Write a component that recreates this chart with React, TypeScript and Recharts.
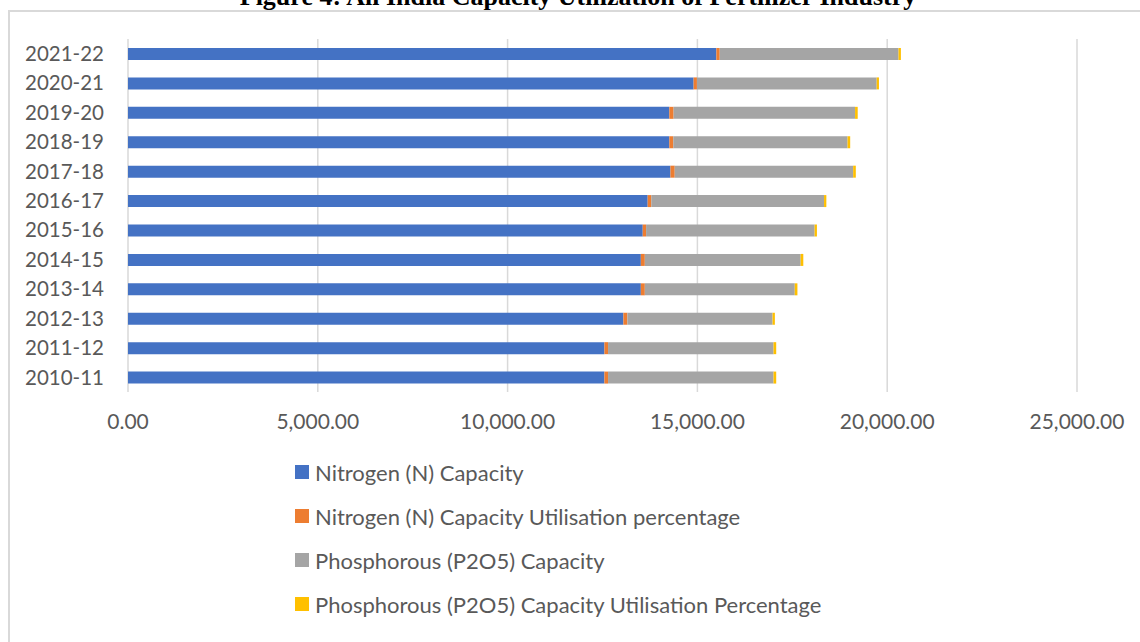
import React from "react";
import { BarChart, Bar, XAxis, YAxis, CartesianGrid, Legend } from "recharts";

const years = ["2010-11", "2011-12", "2012-13", "2013-14", "2014-15", "2015-16", "2016-17", "2017-18", "2018-19", "2019-20", "2020-21", "2021-22"];
const nCapacity = [12550, 12550, 13050, 13510, 13510, 13560, 13690, 14290, 14260, 14260, 14900, 15500];
const nUtil = [96, 96, 105, 105, 105, 88, 96, 113, 105, 113, 88, 88];
const pCapacity = [4360, 4360, 3825, 3950, 4105, 4440, 4550, 4700, 4590, 4780, 4735, 4710];
const pUtil = [70, 70, 61, 70, 70, 61, 61, 70, 70, 70, 60, 63];
const xTicks = [0, 5000, 10000, 15000, 20000, 25000];

const seriesNames = [
  "Nitrogen (N) Capacity",
  "Nitrogen (N) Capacity Utilisation percentage",
  "Phosphorous (P2O5) Capacity",
  "Phosphorous (P2O5) Capacity Utilisation Percentage",
];
const seriesKeys = ["nCap", "nUtil", "pCap", "pUtil"];
const seriesColors = ["#4472C4", "#ED7D31", "#A5A5A5", "#FFC000"];

const data = years.map((y, i) => ({
  year: y,
  nCap: nCapacity[i],
  nUtil: nUtil[i],
  pCap: pCapacity[i],
  pUtil: pUtil[i],
}));

const FONT = "Lato, 'Open Sans', sans-serif";
const TEXT = "#595959";

const fmt = (v: number) =>
  v.toLocaleString("en-US", { minimumFractionDigits: 2, maximumFractionDigits: 2 });

const LegendContent = () => (
  <div style={{ fontFamily: FONT, fontSize: 22, color: TEXT }}>
    {seriesNames.map((n, i) => (
      <div key={n} style={{ height: 44, display: "flex", alignItems: "center", whiteSpace: "nowrap" }}>
        <span style={{ display: "inline-block", width: 14, height: 14, background: seriesColors[i], marginRight: 6 }} />
        <span>{n}</span>
      </div>
    ))}
  </div>
);

export default function App() {
  return (
    <div style={{ position: "absolute", left: 0, top: 0, width: 1140, height: 642, overflow: "hidden", background: "#fff" }}>
      <div
        style={{
          position: "absolute",
          left: 8,
          top: 10,
          width: 1200,
          height: 700,
          border: "2px solid #d9d9d9",
          boxSizing: "border-box",
        }}
      />
      <div
        style={{
          position: "absolute",
          left: 0,
          width: 1140,
          top: -16,
          textAlign: "center",
          fontFamily: "'Liberation Serif', 'Times New Roman', serif",
          fontWeight: "bold",
          fontSize: 26,
          lineHeight: "26px",
          color: "#000",
          paddingLeft: 16,
          boxSizing: "border-box",
          whiteSpace: "nowrap",
        }}
      >
        Figure 4: All India Capacity Utilization of Fertilizer Industry
      </div>
      <div style={{ position: "absolute", left: 0, top: 0 }}>
        <BarChart
          width={1140}
          height={642}
          data={data}
          layout="vertical"
          margin={{ top: 39, right: 63, bottom: 220, left: 0 }}
          barSize={12}
        >
          <CartesianGrid horizontal={false} vertical={true} stroke="#d9d9d9" strokeWidth={1.5} />
          <XAxis
            type="number"
            domain={[0, 25000]}
            ticks={xTicks}
            tickFormatter={fmt}
            axisLine={false}
            tickLine={false}
            tickSize={0}
            tickMargin={22}
            height={30}
            tick={{ fontFamily: FONT, fontSize: 21, fill: TEXT }}
            interval={0}
          />
          <YAxis
            type="category"
            dataKey="year"
            reversed
            width={128}
            axisLine={false}
            tickLine={false}
            tickSize={0}
            tickMargin={24}
            tick={{ fontFamily: FONT, fontSize: 20.5, fill: TEXT }}
            interval={0}
          />
          <Legend
            layout="vertical"
            align="center"
            verticalAlign="middle"
            content={<LegendContent />}
            wrapperStyle={{ position: "absolute", left: 295, top: 450, width: 640, height: 180 }}
          />
          {seriesKeys.map((k, i) => (
            <Bar
              key={k}
              dataKey={k}
              name={seriesNames[i]}
              stackId="a"
              fill={seriesColors[i]}
              isAnimationActive={false}
            />
          ))}
        </BarChart>
      </div>
    </div>
  );
}
